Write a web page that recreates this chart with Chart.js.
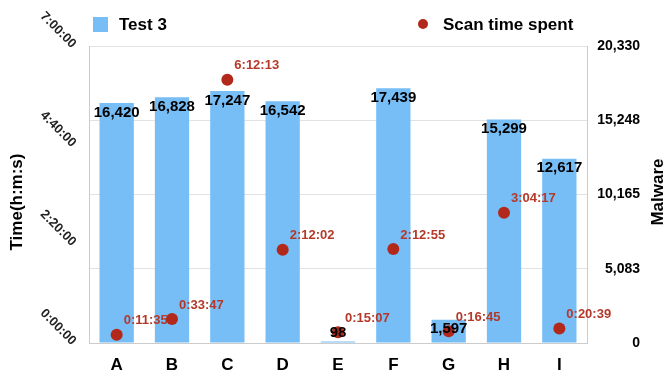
<!DOCTYPE html>
<html>
<head>
<meta charset="utf-8">
<script src="https://cdn.jsdelivr.net/npm/chart.js@4/dist/chart.umd.min.js"></script>
<style>
  html, body { margin: 0; padding: 0; background: #ffffff; }
  #wrap { width: 663px; height: 373px; position: relative; }
</style>
</head>
<body>
<div id="wrap"><canvas id="chart"></canvas></div>
<script>
// Products tested
const categories = ['A', 'B', 'C', 'D', 'E', 'F', 'G', 'H', 'I'];
// Malware samples detected in Test 3
const malwareCounts = [16420, 16828, 17247, 16542, 98, 17439, 1597, 15299, 12617];
// Scan time spent (h:mm:ss)
const scanTimes = ['0:11:35', '0:33:47', '6:12:13', '2:12:02', '0:15:07', '2:12:55', '0:16:45', '3:04:17', '0:20:39'];
// Axis ranges
const timeAxisMax = 25200;   // 7:00:00
const timeAxisStep = 8400;   // 2:20:00
const malwareAxisMax = 20330;

const seriesNames = ['Test 3', 'Scan time spent'];

const FONT = "'Liberation Sans', Arial, Helvetica, sans-serif";
const BAR_COLOR = '#77BDF6';
const POINT_COLOR = '#B2291B';
const POINT_LABEL_COLOR = '#B5392A';

function toSeconds(hms) {
  const [h, m, s] = hms.split(':').map(Number);
  return h * 3600 + m * 60 + s;
}
function toHms(sec) {
  const h = Math.floor(sec / 3600);
  const m = Math.floor((sec % 3600) / 60);
  const s = Math.round(sec % 60);
  return h + ':' + String(m).padStart(2, '0') + ':' + String(s).padStart(2, '0');
}
const scanSeconds = scanTimes.map(toSeconds);

const decorations = {
  id: 'decorations',
  beforeDatasetDraw(chart, args) {
    // time labels sit beneath the markers
    if (args.index !== 1) return;
    const ctx = chart.ctx;
    ctx.save();
    ctx.font = 'bold 13px ' + FONT;
    ctx.fillStyle = POINT_LABEL_COLOR;
    ctx.textAlign = 'left';
    ctx.textBaseline = 'middle';
    args.meta.data.forEach((pt, i) => {
      ctx.fillText(scanTimes[i], pt.x + 7, pt.y - 14);
    });
    ctx.restore();
  },
  afterDatasetsDraw(chart) {
    const ctx = chart.ctx;
    const area = chart.chartArea;
    const meta = chart.getDatasetMeta(0);
    ctx.save();
    ctx.font = 'bold 15px ' + FONT;
    ctx.fillStyle = '#000000';
    ctx.textAlign = 'center';
    ctx.textBaseline = 'middle';
    meta.data.forEach((bar, i) => {
      const y = Math.min(bar.y + 9.5, area.bottom - 10);
      ctx.fillText(malwareCounts[i].toLocaleString('en-US'), bar.x, y);
    });
    ctx.restore();
  },
  afterDraw(chart) {
    const ctx = chart.ctx;
    ctx.save();
    // legend
    ctx.font = 'bold 17px ' + FONT;
    ctx.fillStyle = BAR_COLOR;
    ctx.fillRect(93, 17, 15, 15);
    ctx.fillStyle = '#000000';
    ctx.textAlign = 'left';
    ctx.textBaseline = 'middle';
    ctx.fillText(seriesNames[0], 119, 25);
    ctx.fillStyle = POINT_COLOR;
    ctx.beginPath();
    ctx.arc(423, 24, 5, 0, Math.PI * 2);
    ctx.fill();
    ctx.fillStyle = '#000000';
    ctx.fillText(seriesNames[1], 443, 25);

    // axis titles
    ctx.font = 'bold 17px ' + FONT;
    ctx.textAlign = 'center';
    ctx.textBaseline = 'middle';
    ctx.save();
    ctx.translate(17, 202);
    ctx.rotate(-Math.PI / 2);
    ctx.fillText('Time(h:m:s)', 0, 0);
    ctx.restore();
    ctx.save();
    ctx.translate(658, 192);
    ctx.rotate(-Math.PI / 2);
    ctx.fillText('Malware', 0, 0);
    ctx.restore();
    ctx.restore();
  }
};

new Chart(document.getElementById('chart'), {
  type: 'bar',
  data: {
    labels: categories,
    datasets: [
      {
        label: seriesNames[0],
        data: malwareCounts,
        backgroundColor: BAR_COLOR,
        borderWidth: 0,
        yAxisID: 'yMalware',
        barPercentage: 0.62,
        categoryPercentage: 1.0,
        order: 2
      },
      {
        type: 'line',
        label: seriesNames[1],
        data: scanSeconds,
        showLine: false,
        pointRadius: 6,
        pointHoverRadius: 6,
        pointBackgroundColor: POINT_COLOR,
        pointBorderWidth: 0,
        borderColor: POINT_COLOR,
        yAxisID: 'yTime',
        order: 1
      }
    ]
  },
  options: {
    responsive: true,
    maintainAspectRatio: false,
    animation: false,
    layout: { padding: { left: 0, right: 23, top: 46, bottom: 0 } },
    plugins: {
      legend: { display: false },
      tooltip: { enabled: false }
    },
    scales: {
      x: {
        grid: { display: false },
        border: { display: true, color: '#cccccc' },
        ticks: {
          color: '#000000',
          font: { family: FONT, size: 17, weight: 'bold' },
          padding: 4
        },
        afterFit(scale) { scale.height = 30; }
      },
      yTime: {
        type: 'linear',
        position: 'left',
        min: 0,
        max: timeAxisMax,
        grid: { display: false, drawTicks: false },
        border: { display: true, color: '#cccccc' },
        ticks: {
          stepSize: timeAxisStep,
          minRotation: -45,
          maxRotation: 50,
          padding: 15,
          color: '#222222',
          font: { family: FONT, size: 13, weight: 'bold' },
          callback: (v) => toHms(v)
        },
        afterFit(scale) { scale.width = 89; }
      },
      yMalware: {
        type: 'linear',
        position: 'right',
        min: 0,
        max: malwareAxisMax,
        grid: { display: true, drawOnChartArea: true, drawTicks: false, color: '#e2e2e2' },
        border: { display: true, color: '#cccccc' },
        ticks: {
          stepSize: malwareAxisMax / 4,
          crossAlign: 'far',
          color: '#000000',
          font: { family: FONT, size: 14, weight: 'bold' },
          callback: (v) => Math.round(v).toLocaleString('en-US')
        },
        afterFit(scale) { scale.width = 53; }
      }
    }
  },
  plugins: [decorations]
});
</script>
</body>
</html>
